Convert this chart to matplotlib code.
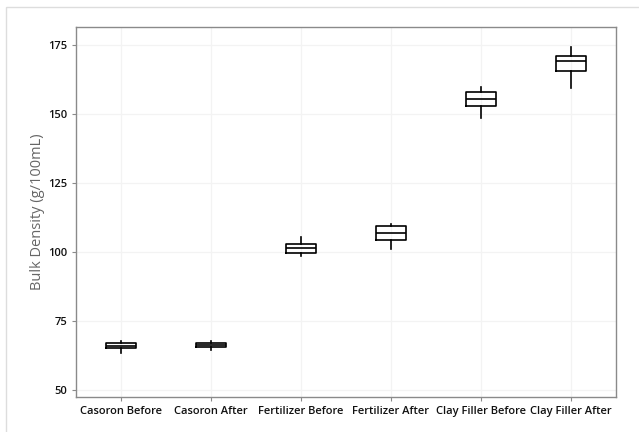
import matplotlib.pyplot as plt
from matplotlib.patches import Rectangle

plt.rcParams['font.family'] = ['Open Sans', 'DejaVu Sans']

groups = ["Casoron Before", "Casoron After", "Fertilizer Before",
          "Fertilizer After", "Clay Filler Before", "Clay Filler After"]
# five-number summaries
whislo = [63.5, 64.7, 98.5, 101.1, 148.5, 159.3]
q1 = [65.2, 65.6, 99.8, 104.4, 152.7, 165.5]
med = [66.2, 66.4, 101.4, 106.9, 155.5, 169.2]
q3 = [67.2, 67.2, 102.9, 109.3, 157.8, 170.9]
whishi = [67.9, 67.9, 105.5, 110.2, 159.7, 174.2]
yticks = [50, 75, 100, 125, 150, 175]

stats = []
for i in range(len(groups)):
    stats.append(dict(label=groups[i], whislo=whislo[i], q1=q1[i], med=med[i],
                      q3=q3[i], whishi=whishi[i], fliers=[]))

fig = plt.figure(figsize=(6.39, 4.32), dpi=100)
ax = fig.add_axes([76/639, 1 - 397/432, 540/639, 370/432])

ax.bxp(stats, positions=range(len(groups)), widths=0.34, showcaps=False,
       boxprops=dict(color='black', linewidth=1.2),
       medianprops=dict(color='black', linewidth=1.2),
       whiskerprops=dict(color='black', linewidth=1.2), zorder=3)

ax.set_xlim(-0.5, len(groups) - 0.5)
ax.set_ylim(47.6, 181.4)
ax.set_yticks(yticks)
ax.grid(True, color='#f3f3f3', linewidth=0.9, zorder=0)
ax.set_axisbelow(True)

for s in ax.spines.values():
    s.set_color('#8a8a8a')
    s.set_linewidth(1.0)
ax.tick_params(axis='both', colors='#8a8a8a', labelcolor='#111111',
               labelsize=8, length=3)
for lab in ax.get_xticklabels() + ax.get_yticklabels():
    lab.set_fontweight('semibold')
ax.set_ylabel("Bulk Density (g/100mL)", fontsize=10.5, color='#666666', labelpad=2)

# outer frame of the exported figure
fig.patches.append(Rectangle((6/639, -0.01), 1.0, 1 - 7/432 + 0.01,
                             transform=fig.transFigure, fill=False,
                             edgecolor='#dddddd', linewidth=1.0))

fig.savefig("out.png", dpi=100)
